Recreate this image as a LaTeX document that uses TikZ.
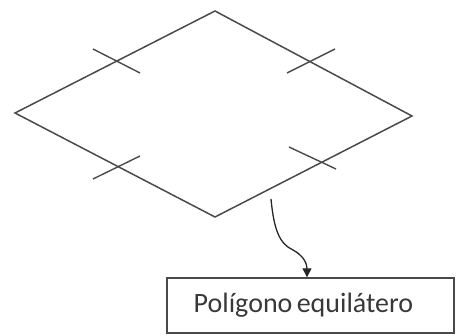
\documentclass[tikz,border=0pt]{standalone}
\usepackage{fontspec}
\setmainfont{Carlito}
\usetikzlibrary{arrows.meta}
\definecolor{linegray}{HTML}{4A4A4A}
\tikzset{
  shape line/.style={draw=linegray, line width=1.5pt, line join=miter},
  tick line/.style={draw=linegray, line width=1.4pt},
  connector/.style={draw=black!85, line width=1.3pt, -{Triangle[length=9pt,width=9pt]}},
  labelbox/.style={draw=linegray, line width=1.4pt, minimum width=287pt, minimum height=55pt, inner sep=0pt, font=\fontsize{28}{32}\selectfont, text=black!78}
}
\begin{document}
\begin{tikzpicture}[x=1pt,y=1pt]
\useasboundingbox (0,0) rectangle (458,336);
\coordinate (top) at (215,325);
\coordinate (left) at (15,223);
\coordinate (right) at (412,220);
\coordinate (bottom) at (215,119);
\path[shape line] (top) -- (right) -- (bottom) -- (left) -- cycle;
\coordinate (ula) at (93,287); \coordinate (ulb) at (140,263);
\coordinate (ura) at (287,263); \coordinate (urb) at (335,287);
\coordinate (lla) at (93,157); \coordinate (llb) at (140,180);
\coordinate (lra) at (289,189); \coordinate (lrb) at (336,167);
\path[tick line] (ula) -- (ulb);
\path[tick line] (ura) -- (urb);
\path[tick line] (lla) -- (llb);
\path[tick line] (lra) -- (lrb);
\node[labelbox] (box) at (310.5,30.5) {\hspace*{-14pt}Polígono\hspace{-2pt} equilátero};
\coordinate (start) at (271,137);
\coordinate (bend) at (293,86);
\path[connector] (start) .. controls (274,105) and (280,92) .. (bend) .. controls (304,80) and (307,72) .. ([xshift=-3.5pt]box.north);
\end{tikzpicture}
\end{document}
